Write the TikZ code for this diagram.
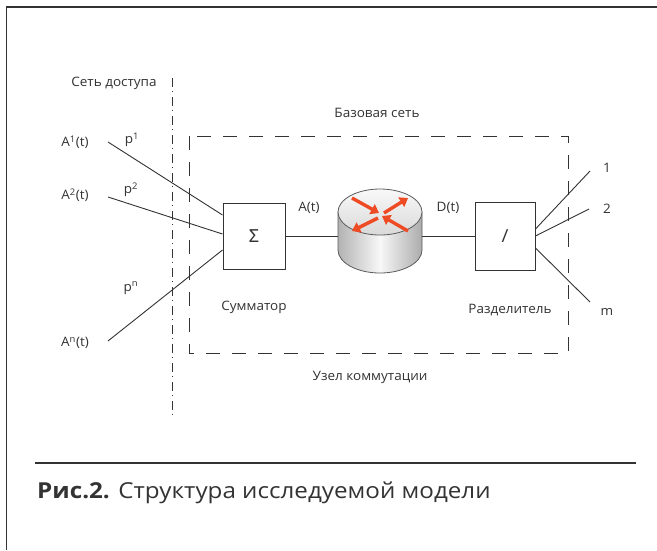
\documentclass[tikz,border=0pt]{standalone}
\usepackage{fontspec}
\setmainfont[FakeStretch=1.04]{Open Sans}
\newfontfamily\capfont[FakeStretch=1.1]{Open Sans}
\newfontfamily\sigmafont{Noto Sans}
\usetikzlibrary{arrows.meta,calc}
\definecolor{ink}{HTML}{333333}
\definecolor{rarr}{HTML}{EE4B24}
\begin{document}
\begin{tikzpicture}[x=1pt,y=-1pt,
  lbl/.style={text=ink,font=\fontsize{13}{15}\selectfont,inner sep=0pt},
  blk/.style={draw=ink,line width=1pt,fill=white,inner sep=0pt},
  conn/.style={draw=ink,line width=0.9pt},
  rarrow/.style={draw=rarr,line width=3.4pt,-{Triangle[width=11pt,length=8pt]}}]
\useasboundingbox (0,0) rectangle (657,550);
\fill[white] (0,0) rectangle (657,550);
% frame
\draw[ink,line width=2pt] (6,7) -- (657,7);
\draw[ink,line width=1.2pt] (6.6,6) -- (6.6,550);
% access-network boundary
\draw[ink,line width=0.9pt,dash pattern=on 9pt off 4pt on 1pt off 5pt] (172,78) -- (172,418);
% switching node (dashed)
\draw[ink,line width=1pt,dash pattern=on 14pt off 12pt] (189,136) rectangle (568,353);
% texts
\node[lbl] (tacc) at (114,83) {Сеть доступа};
\node[lbl] (tbase) at (377,113) {Базовая сеть};
\node[lbl] (tnode) at (370,377) {Узел коммутации};
\node[lbl] (tsum) at (254,307) {Сумматор};
\node[lbl] (tdiv) at (510,310) {Разделитель};
% blocks
\node[blk,minimum width=62pt,minimum height=66pt] (sum) at (254,236) {\sigmafont\fontsize{18}{20}\selectfont\color{ink}Σ};
\node[blk,minimum width=60pt,minimum height=68pt] (div) at (505,236) {\fontsize{18}{20}\selectfont\color{ink}/};
% inputs
\coordinate (a1) at (108,142);
\coordinate (a2) at (108,197);
\coordinate (an) at (108,341);
\node[lbl] (la1) at (75,142) {A\textsuperscript{1}(t)};
\node[lbl] (la2) at (75,195) {A\textsuperscript{2}(t)};
\node[lbl] (lan) at (75,343) {A\textsuperscript{n}(t)};
\node[lbl] (p1) at (132,140) {p\textsuperscript{1}};
\node[lbl] (p2) at (131,190) {p\textsuperscript{2}};
\node[lbl] (pn) at (131,288) {p\textsuperscript{n}};
\draw[conn] (a1) -- ([yshift=21pt]sum.west);
\draw[conn] (a2) -- ([yshift=2pt]sum.west);
\draw[conn] (an) -- ([yshift=-14pt]sum.west);
% router cylinder
\coordinate (cylL) at (338,236);
\coordinate (cylR) at (422,236);
\shade[left color=gray!60,right color=gray!65,middle color=gray!6]
  (338,212) -- (338,250) .. controls (338,262.7) and (356.8,273) .. (380,273)
  .. controls (403.2,273) and (422,262.7) .. (422,250) -- (422,212) -- cycle;
\draw[ink!80,line width=0.8pt]
  (338,212) -- (338,250) .. controls (338,262.7) and (356.8,273) .. (380,273)
  .. controls (403.2,273) and (422,262.7) .. (422,250) -- (422,212);
\shade[top color=gray!5,bottom color=gray!30,draw=ink!80,line width=0.8pt]
  (380,212) ellipse [x radius=42,y radius=23];
\draw[rarrow] (352,198) -- (379,213);
\draw[rarrow] (384,213) -- (408,198);
\draw[rarrow] (378,218) -- (352,231);
\draw[rarrow] (408,231) -- (382,216);
% connectors
\draw[conn] (sum.east) -- (cylL);
\draw[conn] (cylR) -- (div.west);
\node[lbl] (lA) at (309,208) {A(t)};
\node[lbl] (lD) at (448,208) {D(t)};
% outputs
\coordinate (o1) at (590,171);
\coordinate (o2) at (589,209);
\coordinate (om) at (590,302);
\draw[conn] ([yshift=7pt]div.east) -- (o1);
\draw[conn] (div.east) -- (o2);
\draw[conn] ([yshift=-12pt]div.east) -- (om);
\node[lbl] (l1) at (607,168) {1};
\node[lbl] (l2) at (607,209) {2};
\node[lbl] (lm) at (607,312) {m};
% caption
\draw[ink,line width=1.2pt] (35,463) -- (636,463);
\node[anchor=base west,inner sep=0pt,text=ink,font=\capfont\fontsize{22}{26}\selectfont] (cap) at (37,498) {\textbf{Рис.2.} Структура исследуемой модели};
\end{tikzpicture}
\end{document}
